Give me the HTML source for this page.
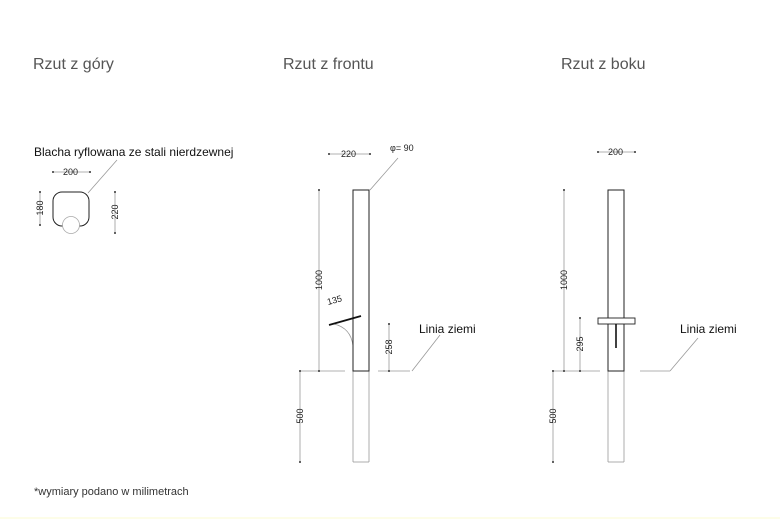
<!DOCTYPE html>
<html><head><meta charset="utf-8"><style>
html,body{margin:0;padding:0;background:#fff;}
body{width:780px;height:519px;position:relative;overflow:hidden;font-family:"Liberation Sans",sans-serif;}
.t{position:absolute;font-size:16px;color:#555;top:56px;}
.strip{position:absolute;left:0;top:517px;width:780px;height:2px;background:#fdfde8;}
</style></head><body>
<div class="t" style="left:33px">Rzut z góry</div>
<div class="t" style="left:283px">Rzut z frontu</div>
<div class="t" style="left:561px">Rzut z boku</div>
<div style="position:absolute;left:34px;top:486px;font-size:11px;color:#333;">*wymiary podano w milimetrach</div>
<div class="strip"></div>
<svg width="780" height="519" style="position:absolute;left:0;top:0" font-family="Liberation Sans, sans-serif">
<g stroke="#999" stroke-width="0.8" fill="none">
<line x1="53" y1="172" x2="90" y2="172"/>
<line x1="40" y1="192" x2="40" y2="225"/>
<line x1="115" y1="192" x2="115" y2="233"/>
<line x1="88" y1="193" x2="117" y2="160"/>
<line x1="329" y1="154" x2="370" y2="154"/>
<line x1="370" y1="190" x2="398" y2="158"/>
<line x1="319" y1="190" x2="319" y2="371"/>
<line x1="300" y1="371" x2="300" y2="462"/>
<line x1="389" y1="324" x2="389" y2="371"/>
<line x1="300" y1="371" x2="345" y2="371"/>
<line x1="378" y1="371" x2="410" y2="371"/>
<line x1="412" y1="371" x2="440" y2="335"/>
<line x1="353" y1="371" x2="353" y2="462"/>
<line x1="369" y1="371" x2="369" y2="462"/>
<line x1="353" y1="462" x2="369" y2="462"/>
<path d="M334 324 Q351 328 353 346"/>
<line x1="598" y1="152" x2="635" y2="152"/>
<line x1="564" y1="190" x2="564" y2="371"/>
<line x1="580" y1="318" x2="580" y2="371"/>
<line x1="553" y1="371" x2="553" y2="462"/>
<line x1="553" y1="371" x2="600" y2="371"/>
<line x1="640" y1="371" x2="670" y2="371"/>
<line x1="670" y1="371" x2="698" y2="338"/>
<line x1="608" y1="371" x2="608" y2="462"/>
<line x1="624" y1="371" x2="624" y2="462"/>
<line x1="608" y1="462" x2="624" y2="462"/>
</g>
<g fill="#333">
<circle cx="53" cy="172" r="1"/><circle cx="90" cy="172" r="1"/>
<circle cx="40" cy="192" r="1"/><circle cx="40" cy="225" r="1"/>
<circle cx="115" cy="192" r="1"/><circle cx="115" cy="233" r="1"/>
<circle cx="329" cy="154" r="1"/><circle cx="370" cy="154" r="1"/>
<circle cx="319" cy="190" r="1"/><circle cx="319" cy="371" r="1"/>
<circle cx="300" cy="371" r="1"/><circle cx="300" cy="462" r="1"/>
<circle cx="389" cy="324" r="1"/><circle cx="389" cy="371" r="1"/>
<circle cx="598" cy="152" r="1"/><circle cx="635" cy="152" r="1"/>
<circle cx="564" cy="190" r="1"/><circle cx="564" cy="371" r="1"/>
<circle cx="580" cy="318" r="1"/><circle cx="580" cy="371" r="1"/>
<circle cx="553" cy="371" r="1"/><circle cx="553" cy="462" r="1"/>
</g>
<rect x="53" y="192" width="36" height="34" rx="9" fill="#fff" stroke="#222" stroke-width="1"/>
<circle cx="71" cy="225" r="8.5" fill="#fff" stroke="#aaa" stroke-width="0.8"/>
<rect x="353" y="190" width="16" height="181" fill="none" stroke="#222" stroke-width="1"/>
<line x1="329" y1="325" x2="361" y2="316" stroke="#111" stroke-width="1.8"/>
<rect x="608" y="190" width="16" height="181" fill="none" stroke="#222" stroke-width="1"/>
<rect x="598" y="318" width="37" height="6" fill="#fff" stroke="#222" stroke-width="0.9"/>
<line x1="616" y1="324" x2="616" y2="348" stroke="#111" stroke-width="1.6"/>
<g font-size="9" fill="#222">
<text x="63" y="175">200</text>
<text transform="translate(43,208) rotate(-90)" text-anchor="middle">180</text>
<text transform="translate(118,212) rotate(-90)" text-anchor="middle">220</text>
<text x="341" y="157">220</text>
<text x="390" y="151">φ= 90</text>
<text transform="translate(322,280) rotate(-90)" text-anchor="middle">1000</text>
<text transform="translate(303,416) rotate(-90)" text-anchor="middle">500</text>
<text transform="translate(392,347) rotate(-90)" text-anchor="middle">258</text>
<text transform="translate(328,305) rotate(-15)">135</text>
<text x="608" y="155">200</text>
<text transform="translate(567,280) rotate(-90)" text-anchor="middle">1000</text>
<text transform="translate(583,344) rotate(-90)" text-anchor="middle">295</text>
<text transform="translate(556,416) rotate(-90)" text-anchor="middle">500</text>
</g>
<g font-size="12" fill="#111">
<text x="34" y="156">Blacha ryflowana ze stali nierdzewnej</text>
<text x="419" y="333">Linia ziemi</text>
<text x="680" y="333">Linia ziemi</text>
</g>
</svg>
</body></html>
